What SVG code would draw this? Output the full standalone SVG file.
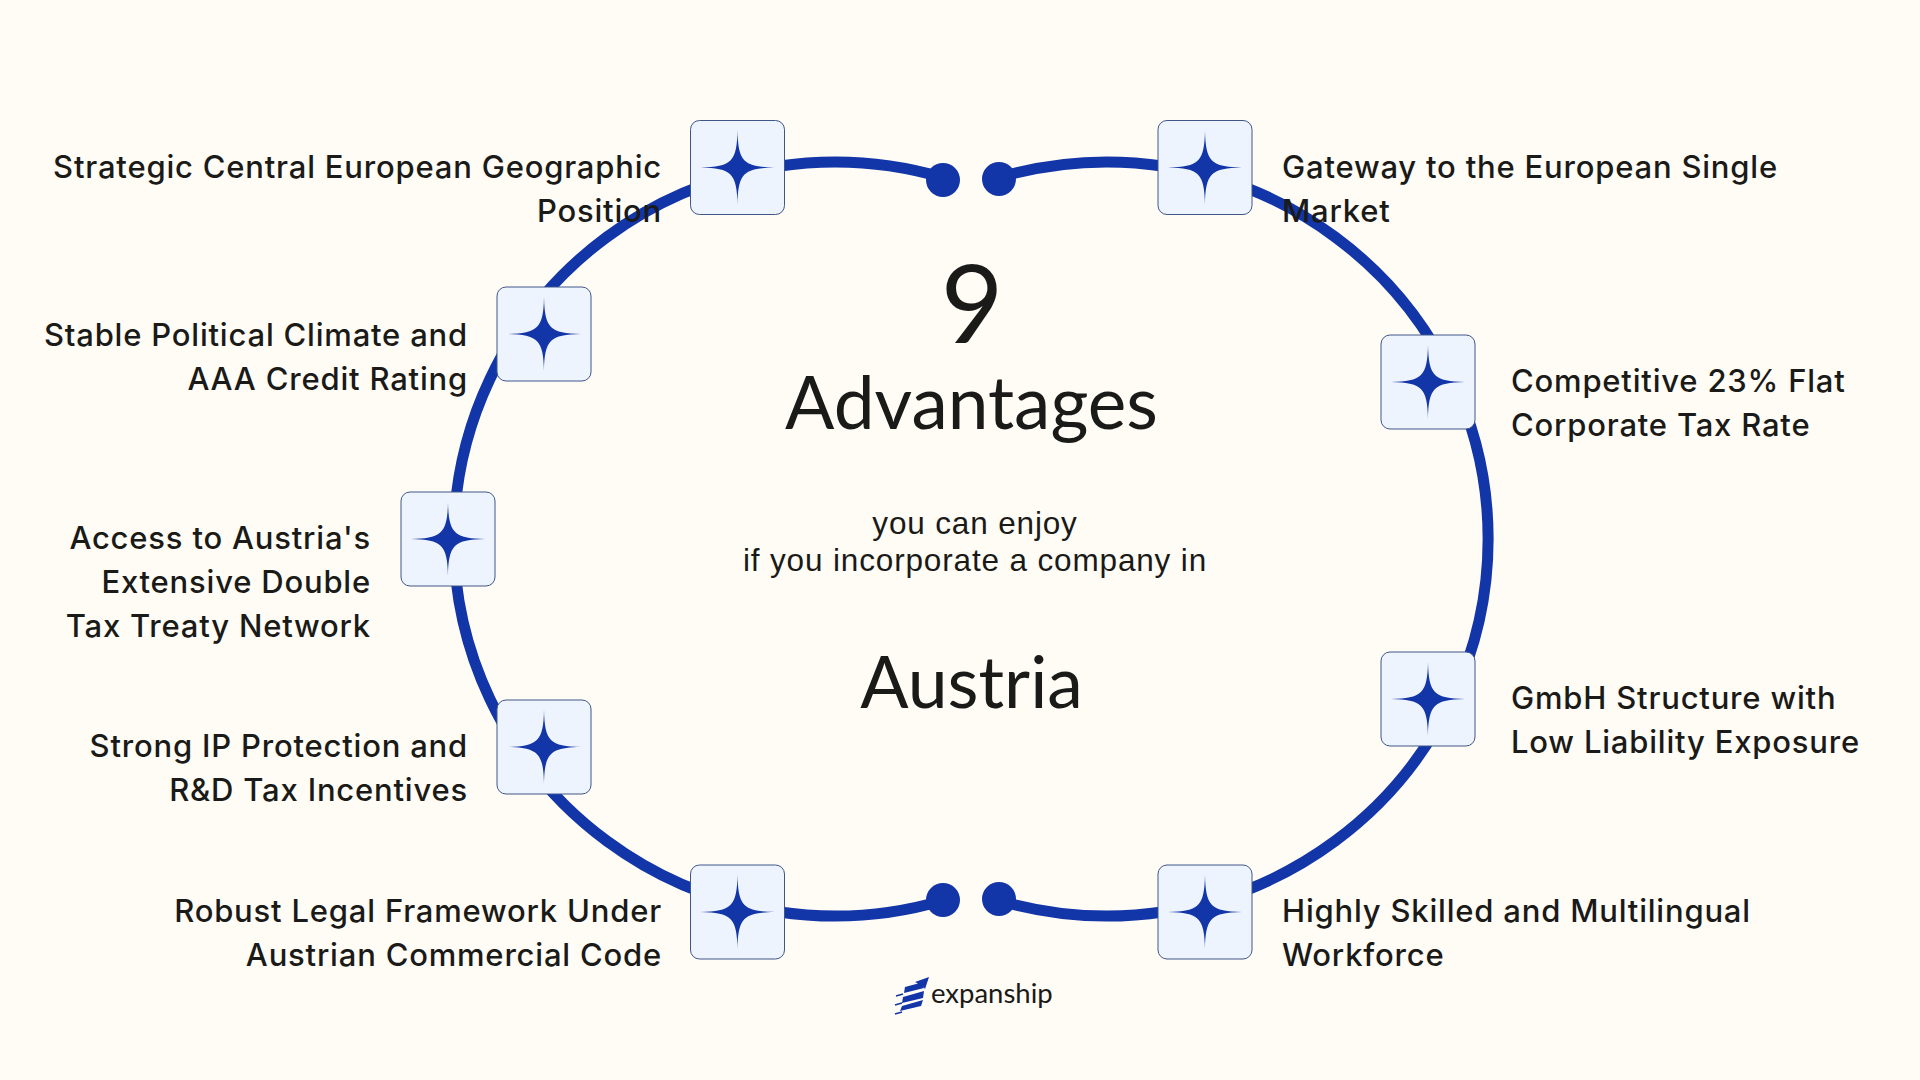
<svg xmlns="http://www.w3.org/2000/svg" width="1920" height="1080" viewBox="0 0 1920 1080">
<style>
.lb{font-family:Inter,"Liberation Sans",sans-serif;font-size:31px;letter-spacing:.8px;fill:#1a1a18;font-weight:500}
.r{text-anchor:end}
.h{font-family:Lato,"Noto Sans",sans-serif;fill:#1a1a18;text-anchor:middle}
.s{font-family:"Liberation Sans",Arial,sans-serif;font-size:31.5px;letter-spacing:.85px;fill:#1a1a18;text-anchor:middle}
.ln{fill:none;stroke:#1235a8;stroke-width:11}
.box{fill:#eef4fe;stroke:#3f5688;stroke-width:1}
.st{fill:#1235a8}
</style>
<defs>
<g id="tile">
<rect class="box" x="-47" y="-47" width="94" height="94" rx="9"/>
<path class="st" d="M0,-37C.6,-6 6,-.6 37,0C6,.6 .6,6 0,37C-.6,6 -6,.6 -37,0C-6,-.6 -.6,-6 0,-37Z"/>
</g>
</defs>
<rect width="1920" height="1080" fill="#fffcf6"/>
<g id="connectors">
<path class="ln" d="M943,177.500A381,377 0 1 0 943,900.500"/>
<path class="ln" d="M999,177.500A381,377 0 1 1 999,900.500"/>
<circle cx="943" cy="180" r="17" fill="#1235a8"/>
<circle cx="999" cy="179" r="17" fill="#1235a8"/>
<circle cx="943" cy="900" r="17" fill="#1235a8"/>
<circle cx="999" cy="899" r="17" fill="#1235a8"/>
</g>
<g id="n1"><use href="#tile" x="737.500" y="167.500"/><text class="lb r" x="662" y="178">Strategic Central European Geographic</text><text class="lb r" x="662" y="222">Position</text></g>
<g id="n2"><use href="#tile" x="544" y="334"/><text class="lb r" x="468" y="346">Stable Political Climate and</text><text class="lb r" x="468" y="390">AAA Credit Rating</text></g>
<g id="n3"><use href="#tile" x="448" y="539"/><text class="lb r" x="371" y="549">Access to Austria's</text><text class="lb r" x="371" y="593">Extensive Double</text><text class="lb r" x="371" y="637">Tax Treaty Network</text></g>
<g id="n4"><use href="#tile" x="544" y="747"/><text class="lb r" x="468" y="757">Strong IP Protection and</text><text class="lb r" x="468" y="801">R&amp;D Tax Incentives</text></g>
<g id="n5"><use href="#tile" x="737.500" y="912"/><text class="lb r" x="662" y="922">Robust Legal Framework Under</text><text class="lb r" x="662" y="966">Austrian Commercial Code</text></g>
<g id="n6"><use href="#tile" x="1205" y="167.500"/><text class="lb" x="1282" y="178">Gateway to the European Single</text><text class="lb" x="1282" y="222">Market</text></g>
<g id="n7"><use href="#tile" x="1428" y="382"/><text class="lb" x="1511" y="392">Competitive 23% Flat</text><text class="lb" x="1511" y="436">Corporate Tax Rate</text></g>
<g id="n8"><use href="#tile" x="1428" y="699"/><text class="lb" x="1511" y="709">GmbH Structure with</text><text class="lb" x="1511" y="753">Low Liability Exposure</text></g>
<g id="n9"><use href="#tile" x="1205" y="912"/><text class="lb" x="1282" y="922">Highly Skilled and Multilingual</text><text class="lb" x="1282" y="966">Workforce</text></g>
<g id="center">
<text class="h" x="972" y="343" font-size="108">9</text>
<text class="h" x="971.500" y="429" font-size="73">Advantages</text>
<text class="s" x="975" y="534">you can enjoy</text>
<text class="s" x="975" y="571">if you incorporate a company in</text>
<text class="h" x="971.500" y="708" font-size="71.500">Austria</text>
</g>
<g id="logo">
<path fill="#1235a8" d="M905,987L918,983.500L915,982L929,977L925,989L923,986L924,988L904,993ZM903,997L924,991L923,998L902,1003ZM902,1006L923,1000L921,1006L900,1011Z"/>
<path fill="none" stroke="#1235a8" stroke-width="1.500" d="M896,996L903,994M895,1005L902,1003M895,1014L902,1012"/>
<text x="931" y="1003" font-family="Lato,sans-serif" font-size="27.500" fill="#1a1a18">expanship</text>
</g>
</svg>
